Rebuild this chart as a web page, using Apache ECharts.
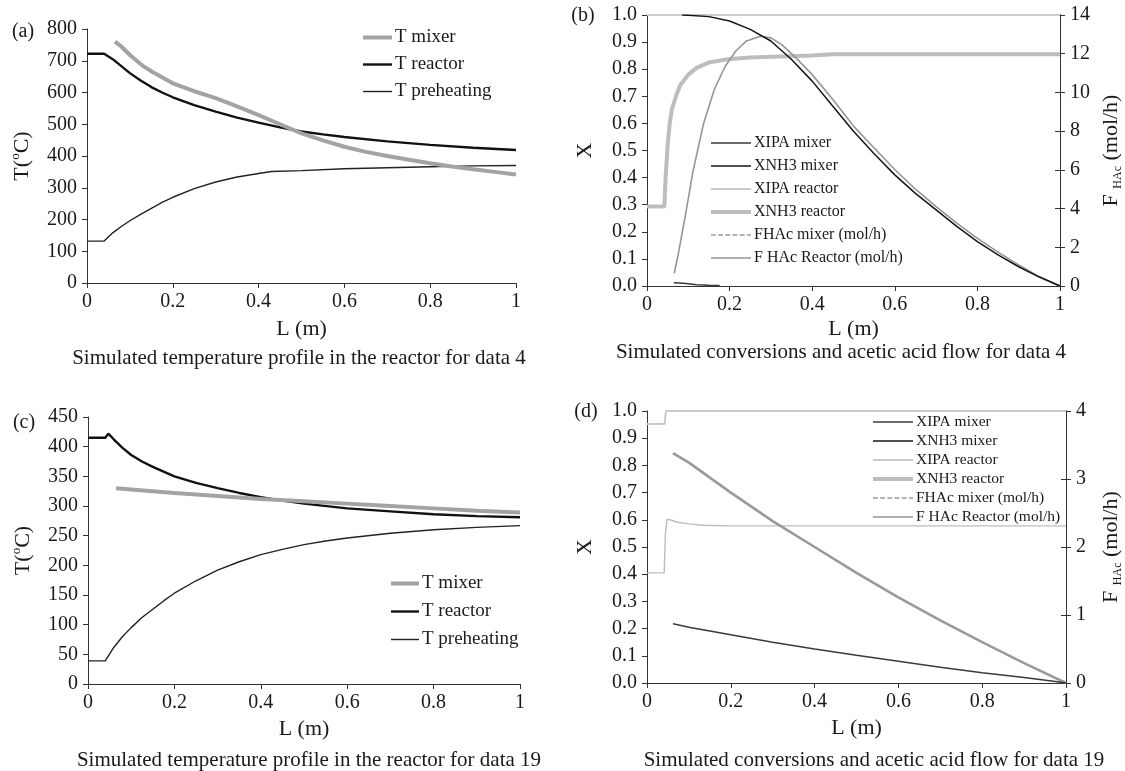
<!DOCTYPE html>
<html><head><meta charset="utf-8">
<script src="https://cdn.jsdelivr.net/npm/echarts@6/dist/echarts.min.js"></script>
<style>html,body{margin:0;padding:0;background:#fff}#c{width:1125px;height:771px}</style>
</head><body><div id="c"></div>
<script>
// ---- tick labels ----
const xTicks = [0, 0.2, 0.4, 0.6, 0.8, 1];
const tempTicksA = [0, 100, 200, 300, 400, 500, 600, 700, 800];
const tempTicksC = [0, 50, 100, 150, 200, 250, 300, 350, 400, 450];
const convTicks = [0, 0.1, 0.2, 0.3, 0.4, 0.5, 0.6, 0.7, 0.8, 0.9, 1.0];
const flowTicksB = [0, 2, 4, 6, 8, 10, 12, 14];
const flowTicksD = [0, 1, 2, 3, 4];

// ---- legends ----
const tempNames = ['T mixer', 'T reactor', 'T preheating'];
const convNames = ['XIPA mixer', 'XNH3 mixer', 'XIPA reactor', 'XNH3 reactor', 'FHAc mixer (mol/h)', 'F HAc Reactor (mol/h)'];

// ---- panel (a): data 4 temperatures [L (m), T (°C)] ----
const aTMixer = [[0.065,760],[0.08,745],[0.1,718],[0.113,703],[0.13,684],[0.154,664],[0.2,629],[0.25,604],[0.3,582],[0.35,556],[0.4,529],[0.45,500],[0.5,471],[0.55,449],[0.6,429],[0.65,413],[0.7,400],[0.75,388],[0.8,377],[0.85,367],[0.9,358],[0.95,350],[1.0,342]];
const aTReactor = [[0,722],[0.04,722],[0.06,705],[0.08,683],[0.1,661],[0.125,638],[0.15,617],[0.175,600],[0.2,585],[0.25,560],[0.3,540],[0.35,521],[0.4,505],[0.45,490],[0.5,477],[0.55,468],[0.6,460],[0.7,446],[0.8,435],[0.9,426],[1.0,419]];
const aTPreheat = [[0,132],[0.04,132],[0.06,158],[0.08,178],[0.1,196],[0.125,216],[0.15,235],[0.175,254],[0.2,270],[0.25,297],[0.3,318],[0.35,334],[0.4,345],[0.43,351],[0.5,354],[0.6,360],[0.7,363],[0.8,366],[0.9,369],[1.0,370]];

// ---- panel (b): data 4 conversions [L, X] and flow [L, mol/h] ----
const bXIPAMixer = [[0.065,0.012],[0.08,0.011],[0.1,0.008],[0.12,0.005],[0.15,0.003],[0.176,0.002]];
const bXNH3Mixer = [[0.085,1.0],[0.1,0.999],[0.15,0.994],[0.2,0.978],[0.25,0.947],[0.3,0.904],[0.35,0.836],[0.4,0.756],[0.45,0.663],[0.5,0.571],[0.55,0.488],[0.6,0.41],[0.65,0.342],[0.7,0.281],[0.75,0.22],[0.8,0.164],[0.85,0.115],[0.9,0.071],[0.95,0.033],[1.0,0]];
const bXIPAReactor = [[0,1.0],[1,1.0]];
const bXNH3Reactor = [[0,0.293],[0.042,0.293],[0.045,0.4],[0.05,0.52],[0.055,0.6],[0.06,0.65],[0.07,0.7],[0.08,0.74],[0.1,0.78],[0.12,0.805],[0.15,0.825],[0.2,0.838],[0.25,0.843],[0.3,0.846],[0.4,0.851],[0.45,0.855],[1.0,0.855]];
const bFHAcMixer = [];
const bFHAcReactor = [[0.066,0.66],[0.076,1.68],[0.094,3.78],[0.111,5.88],[0.137,8.4],[0.163,10.15],[0.189,11.34],[0.215,12.14],[0.241,12.66],[0.275,12.9],[0.3,12.82],[0.327,12.46],[0.362,11.76],[0.4,10.92],[0.45,9.63],[0.5,8.26],[0.55,7.13],[0.6,6.02],[0.65,5.0],[0.7,4.1],[0.75,3.25],[0.8,2.46],[0.85,1.75],[0.9,1.09],[0.95,0.48],[1.0,0]];

// ---- panel (c): data 19 temperatures ----
const cTMixer = [[0.065,330],[0.1,328],[0.2,322],[0.3,317],[0.4,312],[0.5,308],[0.6,304],[0.7,300],[0.8,296],[0.9,292],[1.0,289]];
const cTReactor = [[0,415],[0.04,415],[0.047,422],[0.06,412],[0.08,398],[0.1,386],[0.125,375],[0.15,366],[0.2,350],[0.25,339],[0.3,330],[0.35,322],[0.4,315],[0.45,309],[0.5,304],[0.6,296],[0.7,291],[0.8,286],[0.9,283],[1.0,281]];
const cTPreheat = [[0,39],[0.04,39],[0.06,62],[0.08,80],[0.1,95],[0.125,112],[0.15,126],[0.175,140],[0.2,153],[0.25,174],[0.3,192],[0.35,206],[0.4,218],[0.45,227],[0.5,235],[0.55,241],[0.6,246],[0.7,254],[0.8,260],[0.9,264],[1.0,267]];

// ---- panel (d): data 19 conversions and flow ----
const dXIPAMixer = [[0.062,0.218],[0.1,0.205],[0.2,0.177],[0.3,0.15],[0.4,0.125],[0.5,0.102],[0.6,0.08],[0.7,0.058],[0.8,0.038],[0.9,0.02],[0.97,0.006],[1.0,0]];
const dXNH3Mixer = [];
const dXIPAReactor = [[0,0.952],[0.042,0.952],[0.045,1.0],[1.0,1.0]];
const dXNH3Reactor = [[0.062,0.845],[0.1,0.81],[0.2,0.70],[0.3,0.595],[0.4,0.50],[0.5,0.405],[0.6,0.315],[0.7,0.23],[0.8,0.15],[0.9,0.073],[1.0,0]];
const dFHAcMixer = [];
const dFHAcReactor = [[0,1.62],[0.041,1.62],[0.044,2.2],[0.048,2.41],[0.06,2.39],[0.075,2.36],[0.1,2.34],[0.134,2.32],[0.2,2.31],[1.0,2.31]];

const FONT = 'Liberation Serif';
const INK = '#1a1a1a';
const chart = echarts.init(document.getElementById('c'), null, {renderer: 'canvas'});

// line styles shared by plot and legend
const S = {
  'T mixer': {color: '#a3a3a3', width: 4},
  'T reactor': {color: '#111111', width: 2.4},
  'T preheating': {color: '#222222', width: 1.4},
  'XIPA mixer': {color: '#3a3a3a', width: 1.5},
  'XNH3 mixer': {color: '#151515', width: 1.5},
  'XIPA reactor': {color: '#cacaca', width: 2},
  'XNH3 reactor': {color: '#bdbdbd', width: 4},
  'FHAc mixer (mol/h)': {color: '#666666', width: 1.2, type: 'dashed'},
  'F HAc Reactor (mol/h)': {color: '#959595', width: 1.6}
};

function xAxis(gi, gap) {
  return {
    type: 'value', gridIndex: gi, min: xTicks[0], max: xTicks[xTicks.length - 1], interval: 0.2,
    name: 'L (m)', nameLocation: 'middle', nameGap: gap,
    nameTextStyle: {fontFamily: FONT, fontSize: 22, color: INK},
    axisLine: {lineStyle: {color: '#333', width: 1}},
    axisTick: {length: 5, lineStyle: {color: '#333'}},
    axisLabel: {fontFamily: FONT, fontSize: 20, color: INK, margin: 9,
      formatter: v => String(Math.round(v * 10) / 10)},
    splitLine: {show: false}
  };
}
function yAxis(gi, ticks, opts) {
  return Object.assign({
    type: 'value', gridIndex: gi, min: ticks[0], max: ticks[ticks.length - 1], interval: ticks[1] - ticks[0],
    nameLocation: 'middle', nameRotate: 90,
    axisLine: {show: true, lineStyle: {color: '#333', width: 1}},
    axisTick: {show: true, length: 5, lineStyle: {color: '#333'}},
    axisLabel: {fontFamily: FONT, fontSize: 20, color: INK, margin: 10},
    splitLine: {show: false}
  }, opts);
}
// inner half of the right-axis cross ticks
function innerTicks(gi, ticks) {
  return yAxis(gi, ticks, {position: 'right', axisLabel: {show: false},
    axisTick: {show: true, inside: true, length: 5, lineStyle: {color: '#333'}}});
}
const tName = {
  name: '{n|T(}{s|o}{n|C)}',
  nameTextStyle: {fontFamily: FONT, color: INK, rich: {
    n: {fontFamily: FONT, fontSize: 22, lineHeight: 26, color: INK},
    s: {fontFamily: FONT, fontSize: 13, lineHeight: 14, verticalAlign: 'top', color: INK}
  }}
};
const fName = {
  name: '{n|F }{s|HAc}{n| (mol/h)}',
  nameTextStyle: {fontFamily: FONT, color: INK, rich: {
    n: {fontFamily: FONT, fontSize: 22, lineHeight: 26, color: INK},
    s: {fontFamily: FONT, fontSize: 12, lineHeight: 14, verticalAlign: 'bottom', color: INK}
  }}
};
const xName = {name: 'X', nameTextStyle: {fontFamily: FONT, fontSize: 22, color: INK}};
const convLabel = {axisLabel: {fontFamily: FONT, fontSize: 20, color: INK, margin: 10, formatter: v => v.toFixed(1)}};

function line(name, data, xi, yi, override) {
  const st = Object.assign({}, S[name], override || {});
  return {type: 'line', name: name, data: data, xAxisIndex: xi, yAxisIndex: yi,
    symbol: 'circle', showSymbol: false, symbolSize: 0, animation: false, silent: true,
    lineStyle: {color: st.color, width: st.width, type: st.type || 'solid'},
    itemStyle: {color: st.color}};
}
function legend(names, left, top, fs, gap, iw) {
  return {
    data: names.map(n => ({name: n, lineStyle: {color: S[n].color, width: S[n].width, type: S[n].type || 'solid'}})),
    orient: 'vertical', left: left, top: top, itemGap: gap,
    itemWidth: iw, itemHeight: 12, selectedMode: false, padding: 0,
    itemStyle: {color: 'rgba(0,0,0,0)', borderWidth: 0, opacity: 0},
    textStyle: {fontFamily: FONT, fontSize: fs, color: INK, padding: [0, 0, 0, -2]}};
}
function txt(x, y, s, fs, align) {
  return {type: 'text', x: x, y: y, silent: true,
    style: {text: s, font: fs + 'px "' + FONT + '"', fill: INK, align: align || 'center', verticalAlign: 'middle'}};
}

const option = {
  backgroundColor: '#ffffff',
  animation: false,
  grid: [
    {left: 87, top: 29, width: 429, height: 254},
    {left: 647, top: 15, width: 415, height: 271},
    {left: 88, top: 417, width: 432, height: 267},
    {left: 647, top: 411, width: 423, height: 272}
  ],
  xAxis: [xAxis(0, 35), xAxis(1, 32), xAxis(2, 34), xAxis(3, 34)],
  yAxis: [
    yAxis(0, tempTicksA, Object.assign({nameGap: 52}, tName)),
    yAxis(1, convTicks, Object.assign({nameGap: 51}, xName, convLabel)),
    yAxis(1, flowTicksB, Object.assign({position: 'right', nameGap: 38}, fName)),
    yAxis(2, tempTicksC, Object.assign({nameGap: 52}, tName)),
    yAxis(3, convTicks, Object.assign({nameGap: 51}, xName, convLabel)),
    yAxis(3, flowTicksD, Object.assign({position: 'right', nameGap: 32}, fName)),
    innerTicks(1, flowTicksB),
    innerTicks(3, flowTicksD)
  ],
  legend: [
    legend(tempNames, 361, 28, 19, 8, 29),
    legend(convNames, 709, 135, 16, 7, 40),
    legend(tempNames, 389, 574, 19, 9, 28),
    legend(convNames, 871, 414, 15.5, 3, 40)
  ],
  series: [
    line('T preheating', aTPreheat, 0, 0),
    line('T reactor', aTReactor, 0, 0),
    line('T mixer', aTMixer, 0, 0),

    line('XIPA reactor', bXIPAReactor, 1, 1),
    line('XNH3 reactor', bXNH3Reactor, 1, 1),
    line('F HAc Reactor (mol/h)', bFHAcReactor, 1, 2),
    line('FHAc mixer (mol/h)', bFHAcMixer, 1, 2),
    line('XNH3 mixer', bXNH3Mixer, 1, 1),
    line('XIPA mixer', bXIPAMixer, 1, 1),

    line('T preheating', cTPreheat, 2, 3),
    line('T reactor', cTReactor, 2, 3),
    line('T mixer', cTMixer, 2, 3),

    line('XIPA reactor', dXIPAReactor, 3, 4),
    line('F HAc Reactor (mol/h)', dFHAcReactor, 3, 5, {color: '#bdbdbd', width: 1.4}),
    line('FHAc mixer (mol/h)', dFHAcMixer, 3, 5),
    line('XNH3 reactor', dXNH3Reactor, 3, 4, {color: '#9a9a9a', width: 2.6}),
    line('XNH3 mixer', dXNH3Mixer, 3, 4),
    line('XIPA mixer', dXIPAMixer, 3, 4)
  ],
  graphic: [
    txt(23, 32, '(a)', 20),
    txt(583, 16, '(b)', 20),
    txt(24, 423, '(c)', 20),
    txt(586, 412, '(d)', 20),
    txt(299, 358, 'Simulated temperature profile in the reactor for data 4', 21),
    txt(841, 352, 'Simulated conversions and acetic acid flow for data 4', 21),
    txt(309, 760, 'Simulated temperature profile in the reactor for data 19', 21),
    txt(874, 760, 'Simulated conversions and acetic acid flow for data 19', 21)
  ]
};
chart.setOption(option);
</script>
</body></html>
